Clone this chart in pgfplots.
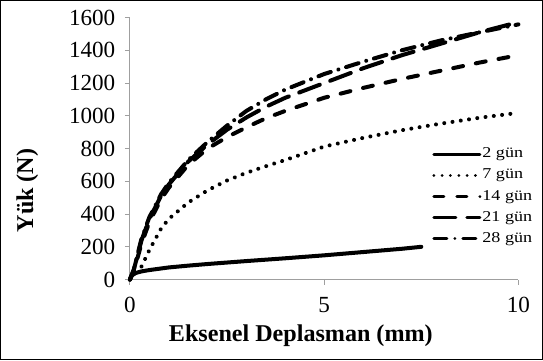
\documentclass[border=0pt]{standalone}
\usepackage{fontspec}
\setmainfont{Liberation Serif}
\usepackage{pgfplots}
\pgfplotsset{compat=1.18}
\newcommand{\legtxt}[1]{\scalebox{1.2}[1]{#1}}
\begin{document}
\begin{tikzpicture}
\begin{axis}[
  scale only axis, width=387pt, height=261pt,
  xmin=0, xmax=10, ymin=0, ymax=1600,
  clip=false,
  axis x line=bottom, axis y line=left,
  axis line style={-, draw=gray!75, line width=0.9pt},
  xtick={0,5,10}, ytick={0,200,...,1600},
  minor tick num=0,
  tick align=outside, major tick length=5pt,
  tick style={draw=gray!75, line width=0.9pt},
  ticklabel style={font=\fontsize{23}{26}\selectfont},
  xticklabel style={yshift=-9pt},
  yticklabel style={xshift=-6pt},
  /pgf/number format/assume math mode=true,
  /pgf/number format/1000 sep={},
  xlabel={Eksenel Deplasman (mm)},
  ylabel={Yük (N)},
  label style={font=\fontsize{24}{28}\selectfont\bfseries},
  xlabel style={at={(axis description cs:0.44,-0.215)}, anchor=center},
  ylabel style={at={(axis description cs:-0.264,0.34)}, anchor=center},
  legend style={at={(rel axis cs:0.77,0.515)}, anchor=north west, draw=none, fill=none,
    font=\fontsize{15}{18}\selectfont, row sep=6pt,
    nodes={inner sep=1pt, text height=10pt, text depth=3pt}},
  legend cell align=left,
  legend image code/.code={\draw[#1, line width=3pt] (0pt,0pt) -- (46pt,0pt);},
]
\addplot[black, line width=4pt, line cap=round, line join=round] coordinates {
(0,0) (0.05,25) (0.15,40) (0.3,50) (0.5,58) (1,74) (1.5,85) (2,95) (3,113) (4,130) (5,148) (6,168) (7,188) (7.5,200)};
\addplot[black, line width=4pt, line cap=round, line join=round, dash pattern=on 0.01pt off 8.3pt] coordinates {
(0.3,80) (0.5,180) (0.8,310) (1,370) (1.5,470) (2,545) (2.5,605) (3,652) (3.5,692) (4,730) (5,812) (6,865) (7,912) (8,952) (9,988) (10,1018)};
\addplot[black, line width=4pt, line cap=round, line join=round, dash pattern=on 10pt off 13pt] coordinates {
(0,0) (0.1,50) (0.3,220) (0.5,350) (0.8,490) (1,560) (1.5,700) (2,800) (2.5,870) (3,930) (3.5,985) (4,1030) (5,1110) (6,1170) (7,1225) (8,1275) (9,1325) (10,1370)};
\addplot[black, line width=4pt, line cap=round, line join=round, dash pattern=on 22pt off 11pt] coordinates {
(0,0) (0.1,60) (0.3,240) (0.5,370) (0.8,510) (1,580) (1.5,720) (2,825) (2.5,915) (3,990) (3.5,1055) (4,1110) (5,1200) (6,1290) (7,1370) (8,1440) (9,1510) (10,1572)};
\addplot[black, line width=4pt, line cap=round, line join=round, dash pattern=on 13pt off 8pt on 0.01pt off 8pt] coordinates {
(0,0) (0.1,60) (0.3,250) (0.5,380) (0.8,520) (1,590) (1.5,730) (2,840) (2.5,940) (3,1030) (3.5,1100) (4,1160) (5,1255) (6,1330) (7,1400) (8,1460) (9,1510) (10,1558)};
\legend{\legtxt{2 gün}, \legtxt{7 gün}, \legtxt{14 gün}, \legtxt{21 gün}, \legtxt{28 gün}}
\draw[black, line width=1pt] (rel axis cs:-0.333,-0.3065) rectangle (rel axis cs:1.062,1.065);
\end{axis}
\end{tikzpicture}
\end{document}
